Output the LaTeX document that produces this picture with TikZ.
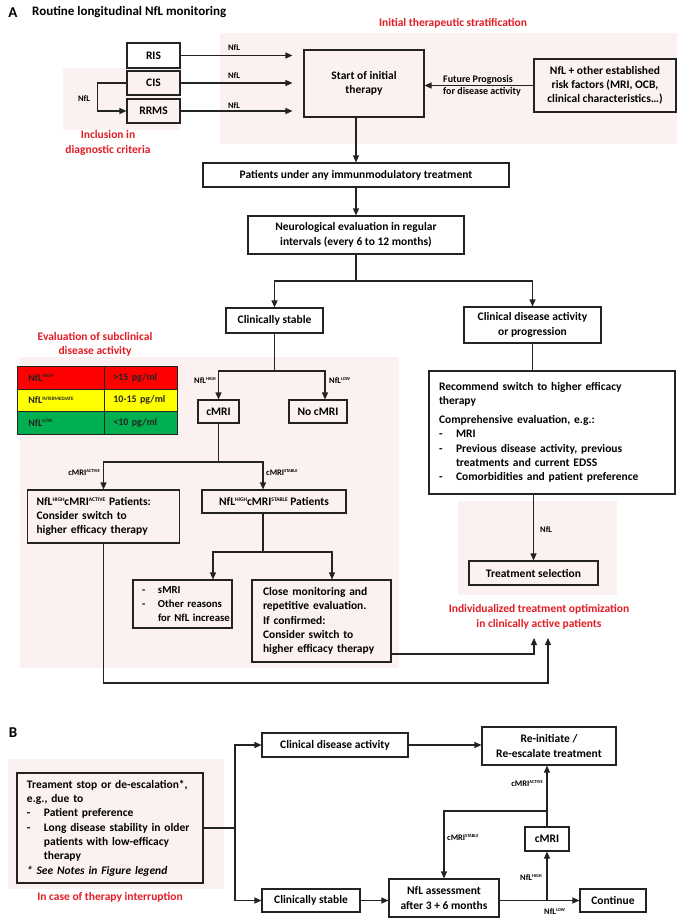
\documentclass[tikz,border=0pt]{standalone}
\usepackage{fontspec}
\setmainfont{Carlito}
\usetikzlibrary{arrows.meta}
\definecolor{pinkbg}{RGB}{251,241,241}
\definecolor{redtxt}{RGB}{226,28,36}
\definecolor{lncol}{RGB}{35,35,35}
\definecolor{tblred}{RGB}{255,0,0}
\definecolor{tblyel}{RGB}{255,255,0}
\definecolor{tblgrn}{RGB}{0,176,80}
\newcommand{\supA}[1]{\raisebox{3.8pt}{\fontsize{5.5}{5.5}\selectfont #1}}
\newcommand{\supB}[1]{\raisebox{3pt}{\fontsize{4.5}{4.5}\selectfont #1}}
\newcommand{\supC}[1]{\raisebox{3.3pt}{\fontsize{5}{5}\selectfont #1}}
\newcommand{\dsh}{\makebox[17pt][l]{-}}
\newcommand{\ind}{\hspace*{17pt}}
\begin{document}
\begin{tikzpicture}[x=1pt,y=-1pt,
  box/.style={draw=lncol, line width=1.1pt, align=center, inner sep=0pt, font=\bfseries\fontsize{11.5}{14.3}\selectfont},
  lbox/.style={box, align=left, inner xsep=10pt},
  arr/.style={draw=lncol, line width=1.1pt, -{Triangle[length=7pt,width=6pt]}},
  ln/.style={draw=lncol, line width=1.1pt},
  lbl/.style={inner sep=0pt, font=\bfseries\fontsize{8.5}{10}\selectfont},
  redlbl/.style={text=redtxt, align=center, inner sep=0pt, font=\bfseries\fontsize{11.5}{14.5}\selectfont},
  tcell/.style={draw=lncol, line width=0.8pt, anchor=north west, align=left, inner ysep=0pt, minimum height=22.5pt, text=lncol, font=\bfseries\fontsize{10}{11}\selectfont}
]
\useasboundingbox (0,0) rectangle (680,919);
\fill[white] (0,0) rectangle (680,919);
% background zones
\fill[pinkbg] (63,68) rectangle (180,130);
\fill[pinkbg] (220,33) rectangle (677,144);
\fill[pinkbg] (20,357) rectangle (399,668);
\fill[pinkbg] (458,501) rectangle (617,595);
\fill[pinkbg] (8,759) rectangle (224,889);

% ---------------- Part A ----------------
\node[inner sep=0pt, font=\bfseries\fontsize{15}{15}\selectfont] (labA) at (13,13) {A};
\node[anchor=west, inner sep=0pt, font=\bfseries\fontsize{13}{15}\selectfont] (titleA) at (32,12) {Routine longitudinal NfL monitoring};

\node[box, minimum width=53pt, minimum height=25pt] (ris) at (153.5,55.5) {RIS};
\node[box, minimum width=53pt, minimum height=24pt] (cis) at (153.5,83) {CIS};
\node[box, minimum width=53pt, minimum height=24pt] (rrms) at (153.5,111) {RRMS};
\node[box, minimum width=120pt, minimum height=67pt] (start) at (364,83.5) {Start of initial\\therapy};
\node[box, minimum width=142pt, minimum height=53pt] (nflp) at (605,85.5) {NfL + other established\\risk factors (MRI, OCB,\\clinical characteristics…)};
\node[box, minimum width=306pt, minimum height=24pt] (pat) at (356,175) {Patients under any immunmodulatory treatment};
\node[box, minimum width=216pt, minimum height=38pt] (neuro) at (356,235) {Neurological evaluation in regular\\intervals (every 6 to 12 months)};
\node[box, minimum width=97pt, minimum height=25pt] (cst) at (274.5,320.5) {Clinically stable};
\node[box, minimum width=137pt, minimum height=36pt] (cda) at (532.5,325) {Clinical disease activity\\or progression};
\node[box, minimum width=41pt, minimum height=23pt] (cmri) at (218.5,411.5) {cMRI};
\node[box, minimum width=58pt, minimum height=23pt] (nocmri) at (318,411.5) {No cMRI};
\node[lbox, text width=226pt, minimum height=123pt] (rec) at (552,432.5) {Recommend switch to higher efficacy\\therapy\\[4.5pt]Comprehensive evaluation, e.g.:\\\dsh MRI\\\dsh Previous disease activity, previous\\\ind treatments and current EDSS\\\dsh Comorbidities and patient preference};
\node[lbox, text width=134pt, inner xsep=9pt, minimum height=53pt] (act) at (103.5,516.5) {NfL\supA{HIGH}cMRI\supA{ACTIVE} Patients:\\Consider switch to\\higher efficacy therapy};
\node[box, minimum width=144pt, minimum height=23pt] (stp) at (274,501.5) {NfL\supA{HIGH}cMRI\supA{STABLE} Patients};
\node[lbox, text width=89pt, inner xsep=5pt, minimum height=48pt, font=\bfseries\fontsize{10.7}{14}\selectfont] (smri) at (182.5,604) {\hspace*{4pt}\makebox[16pt][l]{-}sMRI\\\hspace*{4pt}\makebox[16pt][l]{-}Other reasons\\\mbox{\hspace*{20pt}for NfL increase}};
\node[lbox, text width=117pt, inner xsep=11pt, minimum height=82pt] (close) at (321.5,621) {Close monitoring and\\repetitive evaluation.\\If confirmed:\\Consider switch to\\higher efficacy therapy};
\node[box, minimum width=129pt, minimum height=24pt] (tsel) at (533.5,573) {Treatment selection};

% table
\node[tcell, fill=tblred, text width=65pt, inner xsep=11pt] (t11) at (17,366) {NfL\supC{HIGH}};
\node[tcell, fill=tblred, text width=55pt, inner xsep=9pt] (t12) at (104,366) {>15 pg/ml};
\node[tcell, fill=tblyel, text width=65pt, inner xsep=11pt] (t21) at (17,388.5) {NfL\supC{INTERMEDIATE}};
\node[tcell, fill=tblyel, text width=55pt, inner xsep=9pt] (t22) at (104,388.5) {10-15 pg/ml};
\node[tcell, fill=tblgrn, text width=65pt, inner xsep=11pt] (t31) at (17,411) {NfL\supC{LOW}};
\node[tcell, fill=tblgrn, text width=55pt, inner xsep=9pt] (t32) at (104,411) {<10 pg/ml};

% red labels
\node[redlbl] (rl1) at (453,23) {Initial therapeutic stratification};
\node[redlbl] (rl2) at (108,143) {Inclusion in\\diagnostic criteria};
\node[redlbl] (rl3) at (95,344.5) {Evaluation of subclinical\\disease activity};
\node[redlbl] (rl4) at (539,617) {Individualized treatment optimization\\in clinically active patients};

% connectors A
\draw[arr, shorten >=11pt] (ris.east) -- (ris.east -| start.west);
\draw[arr, shorten >=11pt] (cis.east) -- (cis.east -| start.west);
\draw[arr, shorten >=11pt] (rrms.east) -- (rrms.east -| start.west);
\node[lbl] (n1) at (234,48) {NfL};
\node[lbl] (n2) at (234,76) {NfL};
\node[lbl] (n3) at (234,106) {NfL};
\draw[arr] (cis.west) -- ++(-29,0) |- (rrms.west);
\node[lbl] (n4) at (84,99) {NfL};
\draw[arr] (nflp.west) -- (nflp.west -| start.east);
\node[lbl, anchor=west, align=left, font=\bfseries\fontsize{10}{12}\selectfont] (fp) at (443,86) {Future Prognosis\\for disease activity};
\draw[arr] (pat.north |- start.south) -- (pat.north);
\draw[arr] (pat.south) -- (neuro.north);
\coordinate (s1) at (356,281);
\draw[ln] (neuro.south) -- (s1);
\draw[arr] (s1) -| (cst.north);
\draw[arr] (s1) -| (cda.north);
\coordinate (s2) at (274.5,371);
\draw[ln] (cst.south) -- (s2);
\draw[arr] (s2) -| (cmri.north);
\draw[arr] (s2) -| ([xshift=7pt]nocmri.north);
\node[lbl, anchor=east] (nh1) at (216,381) {NfL\supB{HIGH}};
\node[lbl, anchor=west] (nl1) at (329,381) {NfL\supB{LOW}};
\draw[ln] (cda.south) -- (cda.south |- rec.north);
\draw[arr] (rec.south -| tsel.north) -- (tsel.north);
\node[lbl, anchor=west] (n5) at (540,530) {NfL};
\coordinate (s3) at (218.5,462);
\draw[ln] (cmri.south) -- (s3);
\draw[arr] (s3) -| (act.north);
\draw[arr] (s3) -| ([xshift=-11pt]stp.north);
\node[lbl, anchor=east] (ca1) at (100,473) {cMRI\supB{ACTIVE}};
\node[lbl, anchor=west] (cs1) at (266,473) {cMRI\supB{STABLE}};
\coordinate (s4) at (263,552);
\draw[ln] (stp.south -| s4) -- (s4);
\draw[arr] (s4) -| ([xshift=30.5pt]smri.north);
\draw[arr] (s4) -| ([xshift=10.5pt]close.north);
\coordinate (t1) at (534,638);
\coordinate (t2) at (548,638);
\draw[arr] (close.east |- 0,654) -| (t1);
\draw[arr] (act.south) -- (act.south |- 0,683) -| (t2);

% ---------------- Part B ----------------
\node[inner sep=0pt, font=\bfseries\fontsize{15}{15}\selectfont] (labB) at (13,733) {B};
\node[lbox, text width=166pt, minimum height=110pt] (stop) at (110,828) {\mbox{Treament stop or de-escalation*,}\\e.g., due to\\\dsh Patient preference\\\dsh Long disease stability in older\\\ind patients with low-efficacy\\\ind therapy\\\textit{* See Notes in Figure legend}};
\node[redlbl] (rl5) at (110,897) {In case of therapy interruption};
\node[box, minimum width=146pt, minimum height=24pt] (bcda) at (335,745) {Clinical disease activity};
\node[box, minimum width=98pt, minimum height=23pt] (bcst) at (311,900.5) {Clinically stable};
\node[box, minimum width=134pt, minimum height=38pt] (reinit) at (549,746) {Re-initiate /\\Re-escalate treatment};
\node[box, minimum width=110pt, minimum height=38pt] (nflass) at (444,898) {NfL assessment\\after 3 + 6 months};
\node[box, minimum width=66pt, minimum height=23pt] (cont) at (613,900.5) {Continue};
\node[box, minimum width=44pt, minimum height=24pt] (bcmri) at (547,839) {cMRI};

\coordinate (bs) at (235,828);
\draw[ln] (stop.east) -- (bs);
\draw[arr] (bs) |- (bcda.west);
\draw[arr] (bs) |- (bcst.west);
\draw[arr] (bcda.east) -- (bcda.east -| reinit.west);
\draw[arr] (bcst.east) -- (bcst.east -| nflass.west);
\draw[arr] (nflass.east |- cont.west) -- (cont.west);
\coordinate (bj) at (547,900.5);
\draw[arr] (bj) -- (bcmri.south);
\draw[arr] (bcmri.north) -- (bcmri.north |- reinit.south);
\coordinate (bk) at (547,811);
\draw[arr] (bk) -| (nflass.north);
\node[lbl, anchor=east] (ca2) at (543,784) {cMRI\supB{ACTIVE}};
\node[lbl, anchor=west] (cs2) at (447,838) {cMRI\supB{STABLE}};
\node[lbl, anchor=east] (nh2) at (542,878) {NfL\supB{HIGH}};
\node[lbl, anchor=west] (nl2) at (544,912) {NfL\supB{LOW}};
\end{tikzpicture}
\end{document}
